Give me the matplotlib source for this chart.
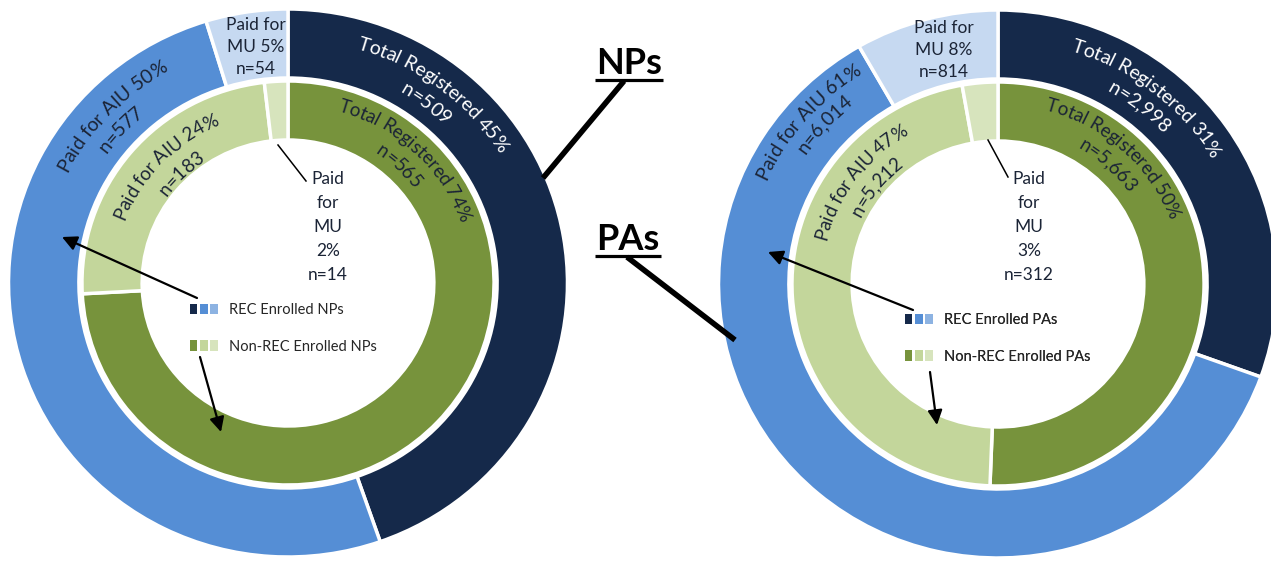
import matplotlib.pyplot as plt
import numpy as np
from matplotlib.font_manager import FontProperties
from matplotlib.patches import Patch
from matplotlib.legend_handler import HandlerTuple

plt.rcParams['font.family'] = ['Lato', 'DejaVu Sans']

# outer ring = REC enrolled, inner ring = non-REC enrolled
segments = ['Total Registered', 'Paid for AIU', 'Paid for MU']
np_rec_n = [509, 577, 54]
np_rec_pct = [45, 50, 5]
np_non_n = [565, 183, 14]
np_non_pct = [74, 24, 2]
pa_rec_n = [2998, 6014, 814]
pa_rec_pct = [31, 61, 8]
pa_non_n = [5663, 5212, 312]
pa_non_pct = [50, 47, 3]

rec_colors = ['#15294a', '#558ed5', '#c6d9f1']
non_colors = ['#77933c', '#c3d69b', '#d7e4bd']
legend_rec = ['#15294a', '#558ed5', '#8db3e2']
dark = '#1b2436'

W, H = 1271, 567
SX = 1.02  # picture is a bit wider than tall

fig = plt.figure(figsize=(W / 100, H / 100), dpi=100)
ax = fig.add_axes([0, 0, 1, 1])
renderer = fig.canvas.get_renderer()


def xy(px, py):
    # picture pixels -> data coords
    return px / SX, H - py


def arc_text(c, r, ang, s, color, size=14):
    # write s along a circle, centred on angle ang (deg), reading clockwise
    fp = FontProperties(size=size)

    def w(t):
        if not t:
            return 0.0
        return renderer.get_text_width_height_descent(t, fp, ismath=False)[0]

    total = w(s)
    rb = r - 0.33 * size * 100 / 72
    for i, ch in enumerate(s):
        if ch == ' ':
            continue
        mid = w(s[:i + 1]) - w(ch) / 2
        th = np.radians(ang) + (total / 2 - mid) / r
        px = c[0] + SX * rb * np.cos(th)
        py = c[1] - rb * np.sin(th)
        rot = np.degrees(np.arctan2(-np.cos(th), SX * np.sin(th)))
        ax.text(*xy(px, py), ch, rotation=rot, rotation_mode='anchor',
                ha='center', va='baseline', fontsize=size, color=color)


charts = [
    dict(c=(288, 283), who='NPs',
         rec=(np_rec_n, np_rec_pct), non=(np_non_n, np_non_pct),
         rec_r=[(250, 226), (249, 226)], rec_a=[(53, 53), (136, 137)],
         non_r=[(185, 161), (178, 153)], non_a=[(47, 47), (136, 134)],
         mu_out=(256, 47), mu_in=(328, 227), leader=((278, 145), (306, 181)),
         legend=(190, 303),
         arrows=[((197, 298), (62, 237)), ((200, 357), (221, 432))]),
    dict(c=(998, 284), who='PAs',
         rec=(pa_rec_n, pa_rec_pct), non=(pa_non_n, pa_non_pct),
         rec_r=[(250, 227), (256, 235)], rec_a=[(52, 52), (139, 137)],
         non_r=[(186, 163), (180, 156)], non_a=[(48, 48), (143, 141)],
         mu_out=(944, 50), mu_in=(1029, 227), leader=((988, 140), (1008, 177)),
         legend=(905, 313),
         arrows=[((913, 310), (768, 252)), ((930, 372), (937, 425))]),
]

for ch in charts:
    cx, cy = xy(*ch['c'])
    rec_n, rec_pct = ch['rec']
    non_n, non_pct = ch['non']
    ax.pie(rec_n, radius=274, center=(cx, cy), startangle=90, counterclock=False,
           colors=rec_colors, frame=True,
           wedgeprops=dict(width=69, edgecolor='white', linewidth=2.5))
    ax.pie(non_n, radius=202, center=(cx, cy), startangle=90, counterclock=False,
           colors=non_colors, frame=True,
           wedgeprops=dict(width=59, edgecolor='white', linewidth=2.5))

    # curved labels for Total Registered / Paid for AIU
    for k, col in enumerate(['white', dark]):
        arc_text(ch['c'], ch['rec_r'][k][0], ch['rec_a'][k][0], f'{segments[k]} {rec_pct[k]}%', col)
        arc_text(ch['c'], ch['rec_r'][k][1], ch['rec_a'][k][1], f'n={rec_n[k]:,}', col)
        arc_text(ch['c'], ch['non_r'][k][0], ch['non_a'][k][0], f'{segments[k]} {non_pct[k]}%', dark, 13.5)
        arc_text(ch['c'], ch['non_r'][k][1], ch['non_a'][k][1], f'n={non_n[k]:,}', dark, 13.5)

    ax.text(*xy(*ch['mu_out']), f'Paid for\nMU {rec_pct[2]}%\nn={rec_n[2]:,}',
            ha='center', va='center', fontsize=12.5, color=dark, linespacing=1.48)
    ax.text(*xy(*ch['mu_in']), f'Paid\nfor\nMU\n{non_pct[2]}%\nn={non_n[2]:,}',
            ha='center', va='center', fontsize=12.5, color=dark, linespacing=1.6)
    (x0, y0), (x1, y1) = ch['leader']
    ax.plot(*zip(xy(x0, y0), xy(x1, y1)), color='black', lw=1.1)

    h1 = tuple(Patch(facecolor=c, edgecolor='none') for c in legend_rec)
    h2 = tuple(Patch(facecolor=c, edgecolor='none') for c in non_colors)
    leg = ax.legend([h1, h2], [f'REC Enrolled {ch["who"]}', f'Non-REC Enrolled {ch["who"]}'],
                    handler_map={tuple: HandlerTuple(ndivide=None, pad=0.2)},
                    loc='upper left', bbox_to_anchor=xy(*ch['legend']),
                    bbox_transform=ax.transData, frameon=False, fontsize=10.5,
                    handlelength=1.9, handletextpad=0.8, labelspacing=1.55,
                    borderpad=0, borderaxespad=0, labelcolor='#262626')
    ax.add_artist(leg)

    for tail, head in ch['arrows']:
        ax.annotate('', xy=xy(*head), xytext=xy(*tail),
                    arrowprops=dict(arrowstyle='-|>', color='black', lw=1.6,
                                    mutation_scale=22, shrinkA=0, shrinkB=0))

# group titles with underline and pointer
titles = [('NPs', (629, 63), (595, 663, 80), ((624, 81), (543, 178))),
          ('PAs', (628, 239), (595, 661, 256), ((627, 257), (735, 340)))]
for name, pos, (u0, u1, uy), ((a0, b0), (a1, b1)) in titles:
    ax.text(*xy(*pos), name, fontsize=26, fontweight='bold', ha='center', va='center')
    ax.plot(*zip(xy(u0, uy), xy(u1, uy)), color='black', lw=2.3, solid_capstyle='butt')
    ax.plot(*zip(xy(a0, b0), xy(a1, b1)), color='black', lw=4, solid_capstyle='butt')

ax.set_aspect('auto')
ax.set_xlim(0, W / SX)
ax.set_ylim(0, H)
ax.axis('off')

fig.savefig('out.png', dpi=100)
